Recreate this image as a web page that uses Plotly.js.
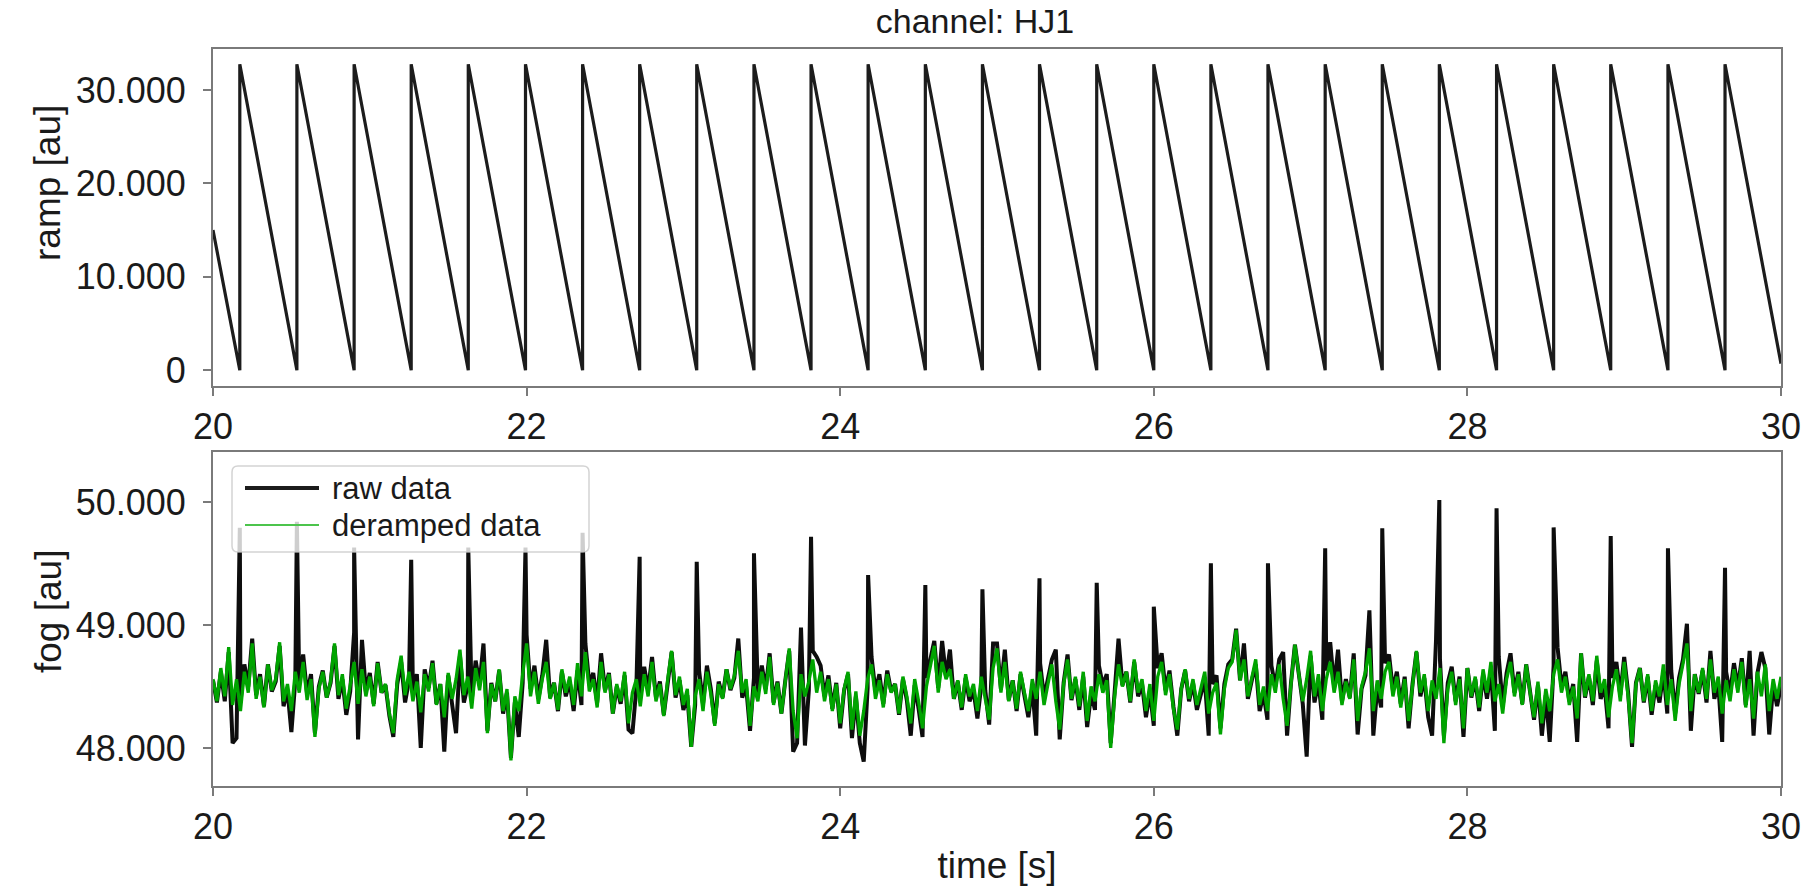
<!DOCTYPE html>
<html>
<head>
<meta charset="utf-8">
<script src="https://cdn.plot.ly/plotly-3.0.1.min.js"></script>
<style>
  html, body { margin: 0; padding: 0; background: #fff; }
  #fog_chart { width: 1819px; height: 886px; }
</style>
</head>
<body>
<div id="fog_chart"></div>
<script>
// -----------------------------------------------------------------------------
// channel HJ1: ramp signal (top) and fog signal raw vs deramped (bottom),
// time window 20..30 s.
// -----------------------------------------------------------------------------

const T_START = 20;
const T_END = 30;

// ramp resets (s) -- the ramp jumps from its floor to its top at each one,
// and the raw fog signal shows a spike at the same instants
const resetTimes = [20.171, 20.535, 20.900, 21.264, 21.628, 21.993, 22.357, 22.721, 23.085,
  23.450, 23.814, 24.178, 24.543, 24.907, 25.271, 25.636, 26.000, 26.364,
  26.728, 27.093, 27.457, 27.821, 28.186, 28.550, 28.914, 29.279, 29.643];
const rampStart = 15000;   // value at t = 20
const rampEnd = 700;       // value at t = 30
const rampFloor = 0;
const rampTop = 32767;

// spike heights of the raw fog signal at each reset
const spikeTops = [49790, 49840, 49630, 49530, 49630, 49630, 49750, 49555, 49515,
  49583, 49718, 49407, 49325, 49290, 49380, 49344, 49149, 49502,
  49502, 49624, 49786, 50016, 49949, 49794, 49724, 49624, 49466];

// fog samples, every 25 ms from t = 20 to t = 30
const FOG_T0 = 20;
const FOG_DT = 0.025;

const fogDeramped = [
  48560, 48380, 48650, 48420, 48820, 48350, 48560, 48300, 48620, 48450, 48850, 48400, 48580, 48330, 48680, 48470, 48560, 48860, 48380, 48520,
  48300, 48620, 48450, 48700, 48390, 48560, 48090, 48480, 48620, 48410, 48540, 48850, 48430, 48600, 48320, 48530, 48700, 48360, 48640, 48420,
  48580, 48340, 48690, 48450, 48520, 48280, 48120, 48560, 48750, 48430, 48620, 48380, 48540, 48290, 48600, 48460, 48690, 48350, 48520, 48250,
  48610, 48400, 48560, 48800, 48430, 48580, 48320, 48650, 48470, 48700, 48120, 48520, 48380, 48640, 48300, 48480, 47900, 48420, 48300, 48600,
  48850, 48420, 48620, 48360, 48560, 48700, 48400, 48530, 48310, 48640, 48450, 48580, 48350, 48690, 48420, 48780, 48460, 48560, 48330, 48700,
  48450, 48600, 48280, 48520, 48380, 48620, 48200, 48450, 48560, 48340, 48600, 48420, 48700, 48380, 48520, 48260, 48560, 48790, 48430, 48580,
  48350, 48480, 48010, 48420, 48560, 48300, 48620, 48440, 48180, 48520, 48400, 48640, 48480, 48590, 48790, 48450, 48560, 48180, 48500, 48380,
  48620, 48440, 48740, 48350, 48530, 48280, 48560, 48810, 48300, 48080, 48600, 48420, 48540, 48720, 48450, 48620, 48380, 48560, 48300, 48520,
  48200, 48480, 48620, 48150, 48460, 48100, 48300, 48560, 48680, 48400, 48550, 48330, 48600, 48450, 48520, 48280, 48580, 48420, 48200, 48560,
  48380, 48160, 48500, 48660, 48830, 48450, 48700, 48560, 48640, 48400, 48550, 48330, 48600, 48420, 48520, 48300, 48580, 48400, 48230, 48650,
  48810, 48450, 48700, 48380, 48550, 48320, 48620, 48450, 48300, 48560, 48400, 48620, 48350, 48520, 48680, 48380, 48150, 48520, 48720, 48400,
  48580, 48340, 48620, 48220, 48500, 48380, 48600, 48450, 48550, 48000, 48420, 48680, 48500, 48620, 48380, 48720, 48450, 48560, 48300, 48520,
  48220, 48580, 48700, 48430, 48600, 48320, 48150, 48480, 48640, 48400, 48560, 48350, 48500, 48620, 48280, 48450, 48530, 48110, 48480, 48650,
  48700, 48960, 48550, 48720, 48420, 48580, 48720, 48350, 48500, 48300, 48600, 48450, 48680, 48400, 48180, 48520, 48840, 48600, 48380, 48560,
  48790, 48420, 48600, 48300, 48560, 48700, 48450, 48620, 48350, 48540, 48400, 48720, 48220, 48500, 48620, 48810, 48300, 48550, 48400, 48620,
  48700, 48420, 48580, 48330, 48560, 48220, 48520, 48790, 48450, 48600, 48300, 48550, 48400, 48650, 48040, 48480, 48620, 48350, 48560, 48160,
  48650, 48420, 48580, 48330, 48640, 48450, 48700, 48380, 48520, 48280, 48560, 48700, 48420, 48600, 48350, 48680, 48450, 48250, 48540, 48200,
  48480, 48300, 48600, 48720, 48450, 48580, 48350, 48500, 48240, 48770, 48420, 48600, 48380, 48750, 48450, 48560, 48250, 48500, 48640, 48380,
  48700, 48420, 48040, 48520, 48650, 48380, 48600, 48300, 48550, 48420, 48680, 48350, 48560, 48220, 48520, 48680, 48850, 48300, 48600, 48450,
  48650, 48400, 48720, 48450, 48580, 48280, 48550, 48380, 48640, 48450, 48700, 48330, 48560, 48240, 48620, 48420, 48680, 48300, 48560, 48400,
  48580
];

const fogRaw = [
  48550, 48370, 48620, 48380, 48780, 48040, 48080, 48370, 48680, 48500, 48890, 48430, 48600, 48340, 48680, 48460, 48540, 48830, 48340, 48470,
  48130, 48550, 48520, 48760, 48440, 48600, 48120, 48500, 48630, 48410, 48530, 48830, 48400, 48560, 48270, 48460, 48940, 48070, 48880, 48460,
  48610, 48360, 48700, 48450, 48510, 48260, 48090, 48520, 48700, 48370, 48550, 48450, 48600, 48000, 48640, 48490, 48710, 48360, 48520, 47970,
  48590, 48370, 48120, 48750, 48370, 48510, 48390, 48710, 48520, 48850, 48140, 48530, 48380, 48630, 48280, 48450, 47920, 48370, 48090, 48530,
  48920, 48480, 48670, 48400, 48590, 48880, 48410, 48530, 48300, 48620, 48420, 48540, 48300, 48630, 48350, 48850, 48520, 48610, 48370, 48770,
  48470, 48610, 48280, 48500, 48360, 48590, 48150, 48120, 48490, 48410, 48660, 48470, 48740, 48410, 48540, 48270, 48560, 48780, 48410, 48550,
  48310, 48430, 48010, 48350, 48630, 48360, 48670, 48480, 48200, 48540, 48410, 48640, 48470, 48570, 48890, 48410, 48500, 48140, 48570, 48450,
  48670, 48480, 48770, 48370, 48540, 48280, 48550, 48790, 47970, 48040, 48980, 48020, 48470, 48790, 48740, 48670, 48420, 48590, 48320, 48530,
  48160, 48470, 48600, 48080, 48420, 48040, 47890, 48490, 48740, 48460, 48600, 48360, 48630, 48460, 48520, 48270, 48560, 48390, 48100, 48510,
  48320, 48090, 48570, 48720, 48870, 48490, 48870, 48580, 48800, 48400, 48540, 48310, 48570, 48380, 48470, 48240, 48510, 48470, 48190, 48850,
  48850, 48480, 48800, 48390, 48550, 48300, 48600, 48420, 48250, 48500, 48100, 48690, 48410, 48570, 48720, 48800, 48070, 48530, 48760, 48390,
  48560, 48310, 48580, 48170, 48440, 48310, 48670, 48510, 48600, 48040, 48450, 48890, 48510, 48620, 48370, 48700, 48420, 48520, 48250, 48460,
  48180, 48650, 48770, 48470, 48630, 48340, 48100, 48480, 48630, 48380, 48530, 48310, 48450, 48560, 48100, 48520, 48590, 48160, 48520, 48680,
  48720, 48970, 48550, 48850, 48400, 48550, 48680, 48300, 48440, 48230, 48670, 48500, 48720, 48780, 48100, 48530, 48840, 48590, 48360, 47930,
  48750, 48370, 48540, 48230, 48630, 48860, 48500, 48800, 48380, 48560, 48410, 48770, 48110, 48480, 48590, 49120, 48100, 48490, 48330, 48690,
  48760, 48470, 48620, 48360, 48580, 48160, 48520, 48780, 48420, 48570, 48250, 48100, 48880, 48720, 48100, 48530, 48660, 48380, 48580, 48090,
  48650, 48410, 48560, 48300, 48600, 48400, 48640, 48140, 48740, 48340, 48610, 48770, 48450, 48620, 48360, 48680, 48440, 48230, 48510, 48100,
  48430, 48050, 48670, 48820, 48500, 48620, 48380, 48520, 48050, 48770, 48410, 48580, 48350, 48710, 48400, 48500, 48160, 48570, 48700, 48430,
  48740, 48450, 48010, 48530, 48650, 48370, 48580, 48270, 48510, 48370, 48620, 48280, 48630, 48280, 48570, 48720, 49010, 48140, 48600, 48440,
  48630, 48370, 48790, 48400, 48520, 48050, 48620, 48440, 48690, 48490, 48730, 48350, 48790, 48100, 48610, 48780, 48650, 48110, 48510, 48340,
  48510
];

const legendLabels = ['raw data', 'deramped data'];

// --- build the sawtooth vertices from the reset list --------------------------
const rampX = [T_START];
const rampY = [rampStart];
resetTimes.forEach(function (t) {
  rampX.push(t, t);
  rampY.push(rampFloor, rampTop);
});
rampX.push(T_END);
rampY.push(rampEnd);

// --- raw fog: regular samples with the reset spikes slotted in ---------------
const rawX = [];
const rawY = [];
let k = 0;
fogRaw.forEach(function (v, i) {
  const t = FOG_T0 + i * FOG_DT;
  while (k < resetTimes.length && resetTimes[k] < t) {
    rawX.push(resetTimes[k]);
    rawY.push(spikeTops[k]);
    k++;
  }
  rawX.push(t);
  rawY.push(v);
});

// --- styling -----------------------------------------------------------------
const FONT = 'Liberation Sans, Arial, sans-serif';
const INK = '#1a1a1a';
const FRAME = '#7a7a7a';
const GREEN = '#00a400';

const axisStyle = {
  showline: true,
  linecolor: FRAME,
  linewidth: 2,
  mirror: true,
  showgrid: false,
  zeroline: false,
  ticks: 'outside',
  ticklen: 8,
  tickwidth: 2,
  tickcolor: FRAME,
  tickfont: { family: FONT, size: 36, color: INK },
  automargin: false
};

const traces = [
  {
    x: rampX, y: rampY, xaxis: 'x', yaxis: 'y',
    type: 'scatter', mode: 'lines',
    line: { color: '#1c1c1c', width: 3.2 },
    hoverinfo: 'skip', showlegend: false
  },
  {
    x: rawX, y: rawY, xaxis: 'x2', yaxis: 'y2',
    type: 'scatter', mode: 'lines', name: legendLabels[0],
    line: { color: '#0d0d0d', width: 4 },
    hoverinfo: 'skip', showlegend: false
  },
  {
    y: fogDeramped, x0: FOG_T0, dx: FOG_DT, xaxis: 'x2', yaxis: 'y2',
    type: 'scatter', mode: 'lines', name: legendLabels[1],
    line: { color: GREEN, width: 3.3 },
    hoverinfo: 'skip', showlegend: false
  }
];

// plot area in px: x 213..1781, y 49..786 (paper coords are relative to it)
const PW = 1568;
const PH = 737;
const px = function (x) { return (x - 213) / PW; };
const py = function (y) { return (786 - y) / PH; };

// rounded legend frame (matplotlib-like)
const lx0 = px(232), lx1 = px(589), ly0 = py(552), ly1 = py(466);
const rx = 6 / PW, ry = 6 / PH;
const legendPath = 'M' + (lx0 + rx) + ',' + ly1 +
  ' L' + (lx1 - rx) + ',' + ly1 + ' Q' + lx1 + ',' + ly1 + ' ' + lx1 + ',' + (ly1 - ry) +
  ' L' + lx1 + ',' + (ly0 + ry) + ' Q' + lx1 + ',' + ly0 + ' ' + (lx1 - rx) + ',' + ly0 +
  ' L' + (lx0 + rx) + ',' + ly0 + ' Q' + lx0 + ',' + ly0 + ' ' + lx0 + ',' + (ly0 + ry) +
  ' L' + lx0 + ',' + (ly1 - ry) + ' Q' + lx0 + ',' + ly1 + ' ' + (lx0 + rx) + ',' + ly1 + ' Z';

const layout = {
  width: 1819,
  height: 886,
  margin: { l: 213, r: 38, t: 49, b: 100, pad: 0 },
  paper_bgcolor: '#ffffff',
  plot_bgcolor: '#ffffff',
  separators: ',.',
  font: { family: FONT, size: 36, color: INK },
  showlegend: false,
  title: {
    text: 'channel: HJ1',
    x: 975 / 1819, xanchor: 'center',
    y: 1 - 21 / 886, yanchor: 'middle',
    font: { family: FONT, size: 34, color: INK }
  },
  xaxis: Object.assign({}, axisStyle, {
    domain: [0, 1], anchor: 'y', range: [T_START, T_END], tick0: 20, dtick: 2
  }),
  yaxis: Object.assign({}, axisStyle, {
    domain: [py(386), 1], anchor: 'x', range: [-1700, 34400],
    tick0: 0, dtick: 10000, tickformat: ',d', ticklabelstandoff: 10
  }),
  xaxis2: Object.assign({}, axisStyle, {
    domain: [0, 1], anchor: 'y2', range: [T_START, T_END], tick0: 20, dtick: 2,
    title: { text: 'time [s]', standoff: 10, font: { family: FONT, size: 37, color: INK } }
  }),
  yaxis2: Object.assign({}, axisStyle, {
    domain: [0, py(452)], anchor: 'x2', range: [47691, 50407],
    tick0: 48000, dtick: 1000, tickformat: ',d', ticklabelstandoff: 10
  }),
  shapes: [
    {
      type: 'path', xref: 'paper', yref: 'paper', layer: 'above',
      path: legendPath,
      fillcolor: 'rgba(255,255,255,0.8)',
      line: { color: 'rgba(200,200,200,0.8)', width: 1.5 }
    },
    {
      type: 'line', xref: 'paper', yref: 'paper', layer: 'above',
      x0: px(245), x1: px(319), y0: py(488), y1: py(488),
      line: { color: '#1c1c1c', width: 4 }
    },
    {
      type: 'line', xref: 'paper', yref: 'paper', layer: 'above',
      x0: px(245), x1: px(319), y0: py(525), y1: py(525),
      line: { color: '#4cc44c', width: 2 }
    }
  ],
  annotations: [
    {
      text: legendLabels[0], xref: 'paper', yref: 'paper',
      x: px(330), y: py(488), xanchor: 'left', yanchor: 'middle',
      showarrow: false, font: { family: FONT, size: 31, color: INK }
    },
    {
      text: legendLabels[1], xref: 'paper', yref: 'paper',
      x: px(330), y: py(525), xanchor: 'left', yanchor: 'middle',
      showarrow: false, font: { family: FONT, size: 31, color: INK }
    },
    {
      text: 'ramp [au]', xref: 'paper', yref: 'paper',
      x: px(48), y: py(183), xanchor: 'center', yanchor: 'middle',
      textangle: -90, showarrow: false,
      font: { family: FONT, size: 37, color: INK }
    },
    {
      text: 'fog [au]', xref: 'paper', yref: 'paper',
      x: px(48), y: py(612), xanchor: 'center', yanchor: 'middle',
      textangle: -90, showarrow: false,
      font: { family: FONT, size: 37, color: INK }
    }
  ]
};

Plotly.newPlot('fog_chart', traces, layout, {
  displayModeBar: false,
  staticPlot: true,
  responsive: false
});
</script>
</body>
</html>
